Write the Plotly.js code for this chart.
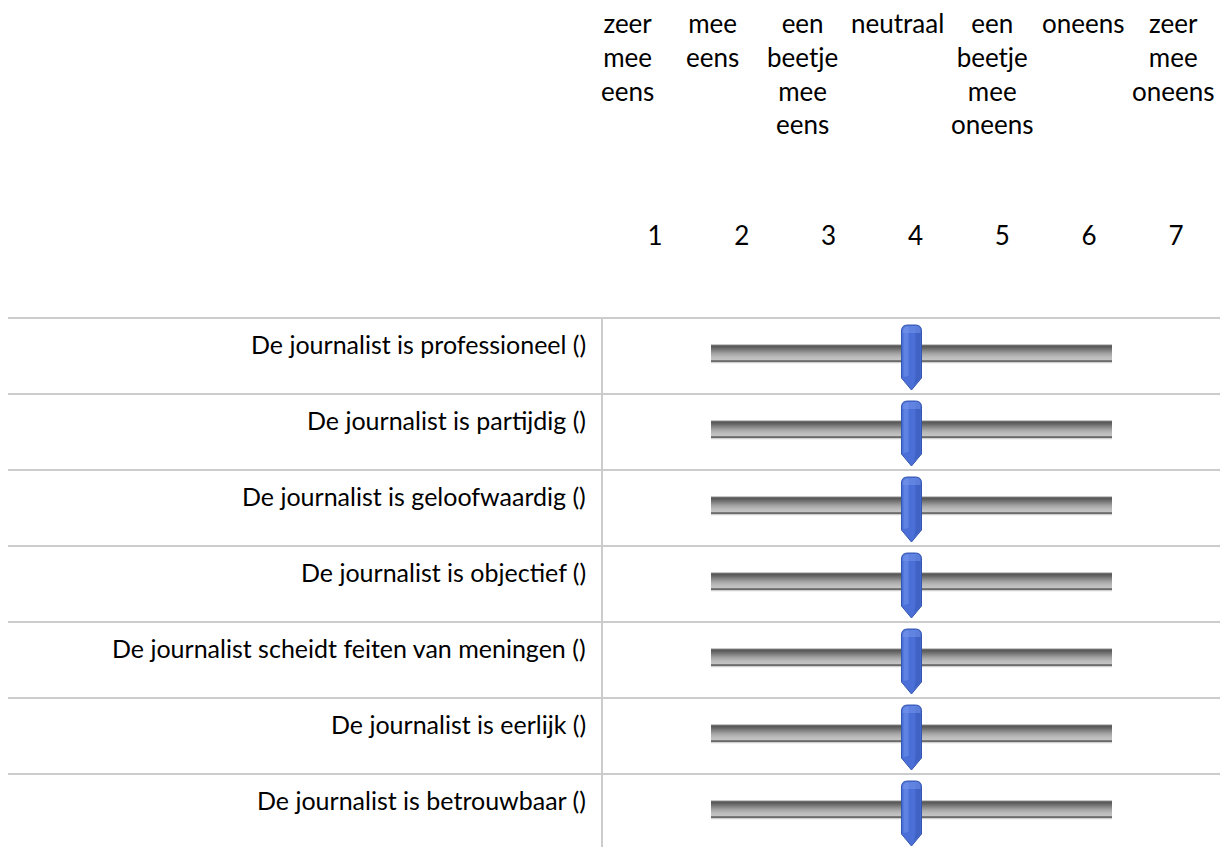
<!DOCTYPE html>
<html>
<head>
<meta charset="utf-8">
<script src="https://cdn.plot.ly/plotly-3.0.1.min.js"></script>
<style>
  html, body { margin: 0; padding: 0; background: #ffffff; }
  #chart { width: 1228px; height: 847px; }
</style>
</head>
<body>
<div id="chart"></div>
<script>
// ---- data ----
const statements = [
  "De journalist is professioneel ()",
  "De journalist is partijdig ()",
  "De journalist is geloofwaardig ()",
  "De journalist is objectief ()",
  "De journalist scheidt feiten van meningen ()",
  "De journalist is eerlijk ()",
  "De journalist is betrouwbaar ()"
];
const sliderValues = [4, 4, 4, 4, 4, 4, 4];
const scalePoints = [1, 2, 3, 4, 5, 6, 7];
const scaleLabels = [
  "zeer<br>mee<br>eens",
  "mee<br>eens",
  "een<br>beetje<br>mee<br>eens",
  "neutraal",
  "een<br>beetje<br>mee<br>oneens",
  "oneens",
  "zeer<br>mee<br>oneens"
];

// ---- layout geometry (styling) ----
const W = 1228, H = 847;
const FONT = "Lato, 'Open Sans', sans-serif";
const TOP = 251;                 // plot area top (tick labels sit above it)
const PX_PER_X = 86.83;          // pixels per scale point
const X_AT_ZERO_PX = 1 - 655 / PX_PER_X;
const ROW0_PX = 318, ROW_PX = 76;
const xRange = [X_AT_ZERO_PX, X_AT_ZERO_PX + W / PX_PER_X];
const yTop = (TOP - ROW0_PX) / ROW_PX;
const yBottom = (H - ROW0_PX) / ROW_PX;
const pxToX = p => X_AT_ZERO_PX + p / PX_PER_X;
const plotH = H - TOP;
const pxToPaperY = p => 1 + (TOP - p) / plotH;

const rows = statements.map((_, i) => i);
const shapes = [];
const annotations = [];

// header labels above the numbers
const headerShift = [-28, -29, -26, -18, -10, -6, -3];
scaleLabels.forEach((lab, k) => {
  annotations.push({
    x: scalePoints[k], xref: 'x', y: pxToPaperY(5), yref: 'paper',
    xanchor: 'center', yanchor: 'top', xshift: headerShift[k],
    text: lab, showarrow: false, align: 'center',
    font: {family: FONT, size: 26, color: '#000000'}
  });
});

// row separators
rows.forEach(i => {
  shapes.push({type: 'line', xref: 'paper', yref: 'y',
    x0: 8 / W, x1: 1220 / W, y0: i, y1: i,
    line: {color: '#cccccc', width: 2}, layer: 'below'});
});
// vertical divider
shapes.push({type: 'line', xref: 'paper', yref: 'y',
  x0: 602 / W, x1: 602 / W, y0: 0, y1: yBottom,
  line: {color: '#cccccc', width: 2}, layer: 'below'});

// slider track: 1px bands (offset from row top, px) with a vertical gradient
const trackTop = 26;
const trackColors = [
  '#c8c8c8', '#6c6c6c', '#5a5a5a', '#626262', '#6c6c6c', '#777777',
  '#828282', '#8d8d8d', '#979797', '#a1a1a1', '#aaaaaa', '#b1b1b1',
  '#b7b7b7', '#bcbcbc', '#c0c0c0', '#c3c3c3', '#7a7a7a', '#6a6a6a', '#cfcfcf'
];
rows.forEach(i => {
  trackColors.forEach((c, k) => {
    shapes.push({type: 'rect', xref: 'x', yref: 'y',
      x0: pxToX(711), x1: pxToX(1112),
      y0: i + (trackTop + k) / ROW_PX, y1: i + (trackTop + k + 1.15) / ROW_PX,
      fillcolor: c, line: {width: 0}, layer: 'below'});
  });
});

// slider handles anchored at the value
const handlePath = 'M -14,25 Q -14,31 -8,31 L 0,31 Q 6,31 6,25 L 6,-22 L -4,-34 L -14,-22 Z';
const darkPath = 'M 0,29 Q 5,29 5,25 L 5,-22 L -1,-29 L 0,-20 Z';
const shinePath = 'M -12,25 Q -12,29 -8,29 L -7,29 L -7,-20 L -12,-21 Z';
const capPath = 'M -13,25 Q -13,30 -8,30 L 0,30 Q 5,30 5,25 L 5,23 L -13,23 Z';
sliderValues.forEach((v, i) => {
  const common = {type: 'path', xref: 'x', yref: 'y', xsizemode: 'pixel', ysizemode: 'pixel',
    xanchor: v, yanchor: i + 0.5, layer: 'above'};
  shapes.push(Object.assign({}, common, {path: handlePath, fillcolor: '#4a6fd6',
    line: {color: '#3456b0', width: 1}}));
  shapes.push(Object.assign({}, common, {path: darkPath, fillcolor: '#3a5cbc',
    line: {width: 0}, opacity: 0.7}));
  shapes.push(Object.assign({}, common, {path: shinePath, fillcolor: '#6488e6',
    line: {width: 0}, opacity: 0.8}));
  shapes.push(Object.assign({}, common, {path: capPath, fillcolor: '#7595ec',
    line: {width: 0}, opacity: 0.55}));
});

// statement labels
statements.forEach((s, i) => {
  annotations.push({
    x: 588 / W, xref: 'paper', y: i + 26 / ROW_PX, yref: 'y',
    xanchor: 'right', yanchor: 'middle', text: s, showarrow: false,
    font: {family: FONT, size: 25, color: '#000000'}
  });
});

const trace = {
  type: 'scatter', mode: 'markers',
  x: sliderValues, y: rows.map(i => i + 0.5),
  marker: {size: 1, opacity: 0}, hoverinfo: 'skip', showlegend: false
};

const layout = {
  width: W, height: H,
  margin: {l: 0, r: 0, t: TOP, b: 0, pad: 0},
  paper_bgcolor: '#ffffff', plot_bgcolor: '#ffffff',
  showlegend: false,
  xaxis: {
    range: xRange, side: 'top', tickmode: 'array',
    tickvals: scalePoints, ticktext: scalePoints.map(String),
    ticks: '', showgrid: false, zeroline: false, showline: false,
    tickfont: {family: FONT, size: 26, color: '#000000'}, fixedrange: true
  },
  yaxis: {
    range: [yBottom, yTop], showticklabels: false, ticks: '',
    showgrid: false, zeroline: false, showline: false, fixedrange: true
  },
  shapes: shapes,
  annotations: annotations
};

Plotly.newPlot('chart', [trace], layout, {displayModeBar: false, staticPlot: true});
</script>
</body>
</html>
